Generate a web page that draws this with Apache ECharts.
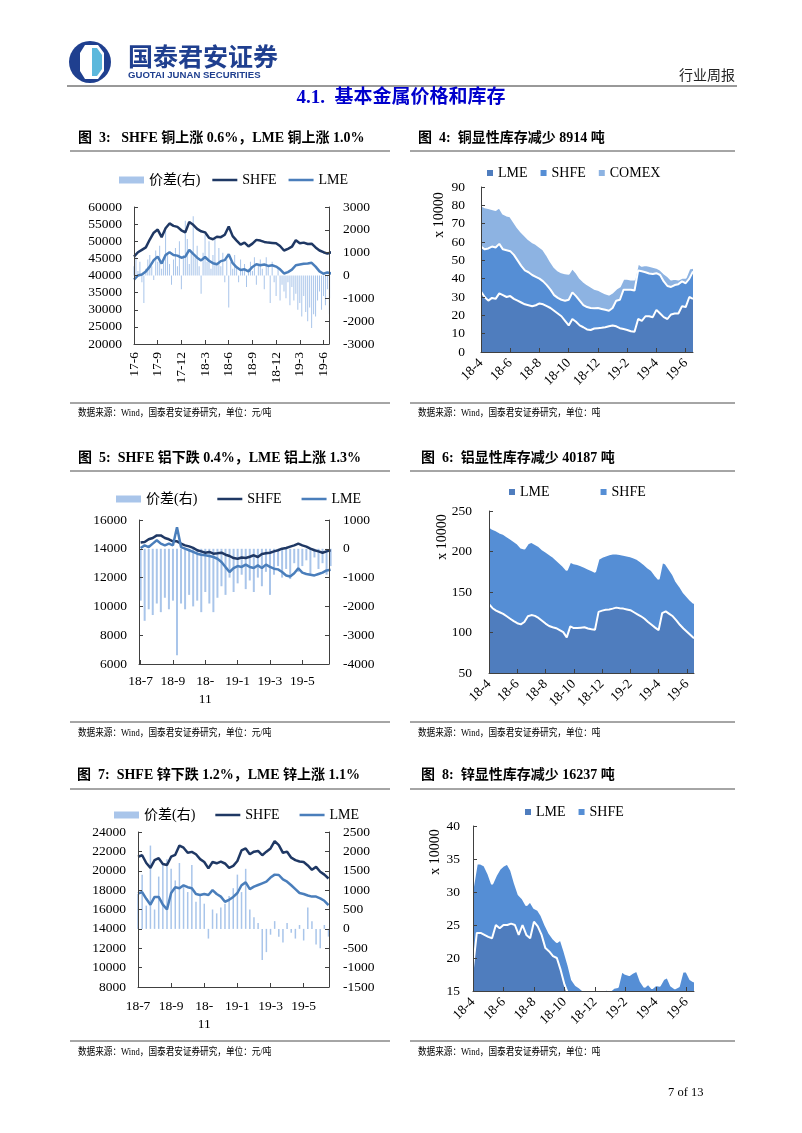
<!DOCTYPE html>
<html><head><meta charset="utf-8">
<script src="https://cdn.jsdelivr.net/npm/echarts@6/dist/echarts.min.js"></script>
<style>html,body{margin:0;padding:0;background:#fff;}#c{width:802px;height:1133px;}</style>
</head><body><div id="c"></div>
<script>
// ---------------- DATA ----------------
// tick labels
const cuPriceTicks = ['17-6','17-9','17-12','18-3','18-6','18-9','18-12','19-3','19-6']; // every 3 months from 2017-06
const alZnPriceTicks = ['18-7','18-9','18-11','19-1','19-3','19-5'];                   // every 2 months from 2018-07
const invTicks = ['18-4','18-6','18-8','18-10','18-12','19-2','19-4','19-6'];            // every 2 months from 2018-04 (8 quarter-month steps)

// Copper prices (yuan/t), half-month steps from 2017-06
const cuShfe = [45500,46800,47500,48200,50500,52500,53400,51200,53800,55200,54500,54200,53200,52600,55600,54800,53600,52900,52600,51000,50600,51300,51200,51900,54300,51500,50200,49000,49600,48500,49300,50400,50200,49800,49600,49500,49400,48600,47300,47800,48400,50300,49400,49600,49200,49300,48200,47300,46800,46400,46800];
const cuLme = [38800,40000,40300,41200,42600,44500,45500,43500,46000,46800,46000,45800,45200,45500,47500,46300,45200,44400,45400,44300,43600,43300,44200,44500,46200,43600,42400,41600,41800,41200,42500,43300,43000,43200,42800,43000,42600,41800,40600,41000,41700,43000,43200,43400,43500,43700,42600,41200,40500,40900,40600];
// Copper spread (right axis), quarter-month steps
const cuSpread = [400,800,200,600,-300,-1200,300,700,900,400,-200,1100,600,1300,300,800,2000,900,500,-400,700,1200,400,1500,-600,900,2400,1600,500,1100,2600,800,1300,400,-800,1000,1800,600,1500,300,900,1700,500,1200,400,1000,-300,700,-1400,600,300,900,400,-300,700,200,500,-500,300,600,200,800,-400,500,700,300,-600,800,400,-1200,600,-300,-900,300,-1100,-400,-700,-1000,-300,-1300,-500,-1100,-800,-1500,-1200,-1800,-900,-1600,-2000,-1400,-2300,-1700,-1800,-1100,-700,-1500,-900,-1300,-600,-1700,-1000];

// Copper visible stocks (x10000 t), quarter-month steps from 2018-04
const cuInvLme = [33,30,28,29.5,29,32,31,30,30.5,29,28,27,26,25.5,25,25.5,26.5,26,25,24,22.5,21,19.5,17,14.5,18,16.5,14.5,13.5,12.3,12,12.8,13,13.2,13.5,14,14.5,14,13,12.5,12,11.3,11,18,17,19.5,19.5,19,23,21,19,18,20.5,21,21,25,24.5,30,29];
const cuInvShfe = [24.5,26,28.5,28,28,27,25,25.5,24.5,24,22,20,18.5,18,17,15.5,13.5,12.5,11.5,10,8.5,8.5,9,11,14,14.5,14,13.5,12.1,12.2,12,11,11,10.3,9.5,8.5,9.5,14,15.5,21.5,22,22.7,22.5,26.5,27,24,23.3,23.5,20,21,19.5,18,15,15.5,16,13.5,13,10,15];
const cuInvComex = [22.5,23,22,20.5,20.5,20,19.5,19,19,18,18,18.5,19,18,18,18,17.5,17.5,16.5,15.5,15.5,15,15,15,14.2,13.3,13,12.5,12.9,12.5,11.8,10.7,10,9.5,9,8.8,8.5,6.5,7.3,6,6,5.5,6,4,3,4,4.2,4,3,3,4.5,5.5,4,3.5,2.5,2,3,5.5,2];

// Aluminium prices, quarter-month steps from 2018-07
const alShfe = [14430,14470,14660,14750,14930,14930,14750,14660,14520,14520,14360,14240,14170,14060,13900,13820,13730,13780,13660,13690,13730,13590,13500,13360,13310,13400,13360,13450,13550,13430,13640,13690,13730,13820,13900,14010,14060,14150,14240,14360,14240,14150,14010,13900,13820,13730,13820,13900];
const alLme = [14060,14240,14120,14360,14590,14360,14240,14360,14240,15500,14120,14010,13900,13780,13660,13590,13550,13500,13430,13310,13080,12730,12390,12660,12800,12740,12900,12740,12670,12850,12670,12900,12740,12620,12570,12390,12150,12080,12300,12650,12350,12250,12200,12150,12250,12350,12500,12550];
const alSpread = [-1800,-2500,-2100,-2300,-1900,-2200,-1700,-2100,-1800,-3700,-1900,-2100,-1600,-2000,-1800,-2200,-1500,-1900,-2200,-1700,-1300,-1600,-1000,-1500,-1200,-900,-1400,-1100,-1500,-1000,-1300,-800,-1600,-900,-600,-1000,-700,-1050,-500,-800,-600,-400,-900,-300,-700,-500,-900,-600];

// Aluminium visible stocks, quarter-month steps from 2018-04
const alInvLme = [135,130,127,125,123,120,117,114,111.5,110,113,120,121.5,120.5,118,114.5,111,108,106.5,105.3,103,100.5,94,107.5,105.5,105.5,106,106.5,105,104,103.5,125.5,127,128,128.5,129.5,130.7,130,129.5,128.5,127.5,125,122.5,120,117,113,109.5,106,103,124,126,123,120,115,109.5,105,101,97,93];
const alInvShfe = [96,98,99,98.5,99,99,99,99,98.5,95,90.5,90,90.5,89,89,88.5,89,89,87.5,84.7,83,81.5,83,80,80,79,77,74.5,74,73,71.5,65.5,66.5,67,68,68,66.8,67,66.5,66.5,66.5,67.5,68,67.5,67,67,67.5,65,63,63,59,55.5,52,48,47.5,45,44,43,43];

// Zinc prices, quarter-month steps from 2018-07
const znShfe = [21450,21600,20800,20300,21100,21300,20700,20600,21450,21650,22600,22380,21850,21950,21700,21200,20900,20250,20900,20770,20940,20750,20300,20500,21000,22100,22300,21700,21970,22040,21600,21970,22300,23050,22650,21850,21970,21350,21100,20950,20900,20550,20100,20400,19900,19600,19200];
const znLme = [17650,17800,17100,16500,17300,17300,16500,16000,17700,18300,18200,18500,18300,18200,17600,17500,17600,17500,18000,17600,17330,16800,17000,17300,17700,18500,18800,18100,18360,18530,18700,18870,19300,19600,19560,19100,18870,18500,18100,17700,17600,17450,17330,17330,17150,16900,16450];
const znSpread = [900,1400,600,2150,500,1350,1700,1800,1550,1250,1700,1100,950,1650,700,850,650,-250,500,400,550,650,850,1050,1400,950,1550,500,300,150,-800,-600,-150,200,-200,-350,150,-100,-250,100,-300,550,200,-400,-500,100,-200];

// Zinc visible stocks, quarter-month steps from 2018-04
const znInvLme = [18.5,23.8,23.8,23.5,23.2,23,25,24.5,25,25,25.2,25,23.5,25,23.5,23,25.5,24.8,23.5,21.5,21,20.3,20,18.2,16,14.5,13.5,13,12.5,12.3,12,11.8,11.5,11.5,11.3,11.2,11,11,11.2,11.5,11.5,11.8,12,12,11.5,11,10.8,10.5,10.3,10.2,10,10,10.2,10,10,9.8,9.8,9.6,9.5];
const znInvShfe = [12.3,10.5,10.5,10.5,9.6,8.2,7.5,9,9,9.3,8.1,6.3,6.1,4,4.5,5.6,2.1,2.5,2.9,3.5,2.8,2.7,2.4,4.6,5,4.5,3.2,2.9,3,2.7,2.8,3,3.7,3.3,3.6,4,4,4.5,4.4,6.5,6.1,5.6,5.8,6.1,5,4.6,5.3,4.9,5.6,5.6,6.8,7.1,5.6,5.4,5.7,8.1,8.2,7.2,6.9];

// ---------------- STYLE ----------------
const SERIF = "'Liberation Serif','Times New Roman',serif";
const MIX = "'Liberation Serif','Noto Sans CJK SC',serif";
const AX = '#404040';
const C_SHFE_LINE = '#1f3864', C_LME_LINE = '#4a7ebb', C_SPREAD = '#a9c5ea';
const C_INV1 = '#4f7dbe', C_INV2 = '#558ed5', C_INV3 = '#8db3e2';
const LINE_ICON = 'path://M0,0h0.01v0.01h-0.01z M0,2.3h25v2.5h-25z M24.99,6.99h0.01v0.01h-0.01z';

const NAMES = {
  cuP_spread:'价差(右)', cuP_shfe:'SHFE', cuP_lme:'LME',
  alP_spread:'价差(右)', alP_shfe:'SHFE', alP_lme:'LME',
  znP_spread:'价差(右)', znP_shfe:'SHFE', znP_lme:'LME',
  cuI_lme:'LME', cuI_shfe:'SHFE', cuI_comex:'COMEX',
  alI_lme:'LME', alI_shfe:'SHFE', znI_lme:'LME', znI_shfe:'SHFE'
};

function xy(arr, step){ return arr.map((v,i)=>[i*step, v]); }
const wrap = t => t === '18-11' ? '18-\n11' : t;
const plain = v => String(v);

function xAxisDef(grid, min, max, labels, spacing, rotate, margin, fmt){
  const pos = labels.map((_,i)=>i*spacing);
  return {
    gridIndex:grid, type:'value', min:min, max:max, z:10,
    axisLine:{show:true, onZero:false, lineStyle:{color:AX, width:1}},
    axisTick:{show:true, inside:true, length:4, customValues:pos, lineStyle:{color:AX}},
    axisLabel:{show:true, customValues:pos, rotate:rotate, margin:margin, fontSize:13.5, fontFamily:SERIF, color:'#000', lineHeight:18,
      formatter: v => { const t = labels[Math.round(v/spacing)] || ''; return fmt ? fmt(t) : t; }},
    splitLine:{show:false}
  };
}
// category axis for stacked stock charts: one category per quarter month, label every 8
function invXAxis(grid, n, margin){
  const cats = Array.from({length:n}, (_,i)=>String(i));
  const every = (i) => i % 8 === 0;
  return {
    gridIndex:grid, type:'category', data:cats, boundaryGap:false, z:10,
    axisLine:{show:true, onZero:false, lineStyle:{color:AX, width:1}},
    axisTick:{show:true, inside:true, length:4, interval:every, lineStyle:{color:AX}},
    axisLabel:{show:true, interval:every, rotate:45, margin:margin, fontSize:13.5, fontFamily:SERIF, color:'#000',
      formatter:(v) => invTicks[Math.round(Number(v)/8)] || ''},
    splitLine:{show:false}
  };
}
function yAxisDef(grid, min, max, interval, position, margin){
  return {
    gridIndex:grid, type:'value', min:min, max:max, interval:interval, position:position, z:10,
    axisLine:{show:true, onZero:false, lineStyle:{color:AX, width:1}},
    axisTick:{show:true, inside:true, length:4, lineStyle:{color:AX}},
    axisLabel:{show:true, margin:margin, fontSize:13.5, fontFamily:SERIF, color:'#000', formatter:plain},
    splitLine:{show:false}
  };
}
function priceSeries(p, xi, yl, yr, shfe, lme, spread, lineStep, barStep, barW){
  return [
    {name:p+'_spread', type:'bar', xAxisIndex:xi, yAxisIndex:yr, data:xy(spread, barStep), barWidth:barW,
      itemStyle:{color:C_SPREAD}, z:1},
    {name:p+'_shfe', type:'line', xAxisIndex:xi, yAxisIndex:yl, data:xy(shfe, lineStep), symbol:'none',
      lineStyle:{color:C_SHFE_LINE, width:2.5}, itemStyle:{color:C_SHFE_LINE}, z:3},
    {name:p+'_lme', type:'line', xAxisIndex:xi, yAxisIndex:yl, data:xy(lme, lineStep), symbol:'none',
      lineStyle:{color:C_LME_LINE, width:2.5}, itemStyle:{color:C_LME_LINE}, z:4}
  ];
}
function invSeries(name, xi, yi, stack, arr, color, z){
  return {name:name, type:'line', stack:stack, xAxisIndex:xi, yAxisIndex:yi, data:arr, symbol:'none',
    lineStyle:{color:'#fff', width:2}, areaStyle:{color:color, opacity:1}, itemStyle:{color:color}, z:z};
}
function priceLegend(prefix, left, top, gap){
  return {left:left, top:top, padding:0, itemGap:gap, itemWidth:25, itemHeight:7, selectedMode:false,
    data:[{name:prefix+'_spread', icon:'rect'}, {name:prefix+'_shfe', icon:LINE_ICON}, {name:prefix+'_lme', icon:LINE_ICON}],
    formatter: n => NAMES[n], textStyle:{fontSize:14, fontFamily:MIX, color:'#000'}};
}
function invLegend(names, left, top, gap){
  return {left:left, top:top, padding:0, itemGap:gap, itemWidth:6, itemHeight:6, icon:'rect', selectedMode:false,
    data:names, formatter: n => NAMES[n], textStyle:{fontSize:14, fontFamily:MIX, color:'#000'}};
}

// ---------------- PAGE TEXT / DECORATION ----------------
function txt(x, y, text, font, fill, align, vAlign, rotation, sx){
  return {type:'text', x:x, y:y, rotation:rotation||0, scaleX:sx||1, silent:true, z:20,
    style:{text:text, font:font, fill:fill||'#000', textAlign:align||'left', textVerticalAlign:vAlign||'middle',
      align:align||'left', verticalAlign:vAlign||'middle'}};
}
function hline(x1, x2, y, color, w){
  return {type:'line', silent:true, z:20, shape:{x1:x1, y1:y, x2:x2, y2:y}, style:{stroke:color, lineWidth:w}};
}
const TFONT = "bold 14px 'Liberation Serif','Noto Sans CJK SC',serif";
const SFONT = "10.5px 'Liberation Serif','Noto Sans CJK SC',serif";
const SSX = 0.82;
const LC = '#4d4d4d';
const graphics = [
  {type:'circle', silent:true, shape:{cx:90, cy:62, r:21}, style:{fill:'#1f3f8f'}},
  {type:'polygon', silent:true, shape:{points:[[85,45],[98,45],[104,53],[104,71],[98,79],[85,79],[80,71],[80,53]]}, style:{fill:'#fff'}},
  {type:'polygon', silent:true, shape:{points:[[92,48],[97,48],[102,55],[102,69],[97,76],[92,76]]}, style:{fill:'#5cb8dc'}},
  txt(128, 56, '国泰君安证券', "bold 25px 'Noto Sans CJK SC',sans-serif", '#1f3f8f'),
  txt(128, 75, 'GUOTAI JUNAN SECURITIES', "bold 9.6px 'Liberation Sans','DejaVu Sans',sans-serif", '#1f3f8f'),
  txt(735, 75, '行业周报', "14px 'Noto Sans CJK SC',sans-serif", '#222', 'right'),
  hline(67, 737, 86, '#333', 1),
  txt(401, 98, '4.1.  基本金属价格和库存', "bold 19px 'Liberation Serif','Noto Sans CJK SC',serif", '#0000cc', 'center'),

  txt(78, 138, '图  3:   SHFE 铜上涨 0.6%，LME 铜上涨 1.0%', TFONT),
  txt(418, 138, '图  4:  铜显性库存减少 8914 吨', TFONT),
  hline(70, 390, 151, LC, 1), hline(410, 735, 151, LC, 1),
  hline(70, 390, 403, LC, 1), hline(410, 735, 403, LC, 1),
  txt(78, 413, '数据来源：Wind，国泰君安证券研究，单位：元/吨', SFONT, '#000', 'left', 'middle', 0, SSX),
  txt(418, 413, '数据来源：Wind，国泰君安证券研究，单位：吨', SFONT, '#000', 'left', 'middle', 0, SSX),

  txt(78, 458, '图  5:  SHFE 铝下跌 0.4%，LME 铝上涨 1.3%', TFONT),
  txt(421, 458, '图  6:  铝显性库存减少 40187 吨', TFONT),
  hline(70, 390, 471, LC, 1), hline(410, 735, 471, LC, 1),
  hline(70, 390, 722, LC, 1), hline(410, 735, 722, LC, 1),
  txt(78, 733, '数据来源：Wind，国泰君安证券研究，单位：元/吨', SFONT, '#000', 'left', 'middle', 0, SSX),
  txt(418, 733, '数据来源：Wind，国泰君安证券研究，单位：吨', SFONT, '#000', 'left', 'middle', 0, SSX),

  txt(77, 775, '图  7:  SHFE 锌下跌 1.2%，LME 锌上涨 1.1%', TFONT),
  txt(421, 775, '图  8:  锌显性库存减少 16237 吨', TFONT),
  hline(70, 390, 789, LC, 1), hline(410, 735, 789, LC, 1),
  hline(70, 390, 1041, LC, 1), hline(410, 735, 1041, LC, 1),
  txt(78, 1052, '数据来源：Wind，国泰君安证券研究，单位：元/吨', SFONT, '#000', 'left', 'middle', 0, SSX),
  txt(418, 1052, '数据来源：Wind，国泰君安证券研究，单位：吨', SFONT, '#000', 'left', 'middle', 0, SSX),

  txt(439, 215, 'x 10000', "14px 'Liberation Serif',serif", '#000', 'center', 'middle', Math.PI/2),
  txt(442, 537, 'x 10000', "14px 'Liberation Serif',serif", '#000', 'center', 'middle', Math.PI/2),
  txt(435, 852, 'x 10000', "14px 'Liberation Serif',serif", '#000', 'center', 'middle', Math.PI/2),

  txt(668, 1093, '7 of 13', "12.5px 'Liberation Serif',serif", '#000')
];

// ---------------- OPTION ----------------
const option = {
  animation:false,
  backgroundColor:'#fff',
  textStyle:{fontFamily:MIX},
  grid:[
    {left:134, top:207, width:195, height:137},
    {left:481, top:187, width:212, height:165},
    {left:139, top:520, width:190, height:144},
    {left:489, top:511, width:205, height:162},
    {left:138, top:832, width:191, height:155},
    {left:473, top:826, width:221, height:165}
  ],
  xAxis:[
    xAxisDef(0, 0, 24.7, cuPriceTicks, 3, 90, 8),
    invXAxis(1, cuInvLme.length, 9),
    xAxisDef(2, -0.1, 11.65, alZnPriceTicks, 2, 0, 8, wrap),
    invXAxis(3, alInvLme.length, 9),
    xAxisDef(4, 0, 11.53, alZnPriceTicks, 2, 0, 10, wrap),
    invXAxis(5, znInvLme.length, 9)
  ],
  yAxis:[
    yAxisDef(0, 20000, 60000, 5000, 'left', 12),
    yAxisDef(0, -3000, 3000, 1000, 'right', 14),
    yAxisDef(1, 0, 90, 10, 'left', 16),
    yAxisDef(2, 6000, 16000, 2000, 'left', 12),
    yAxisDef(2, -4000, 1000, 1000, 'right', 14),
    yAxisDef(3, 50, 250, 50, 'left', 17),
    yAxisDef(4, 8000, 24000, 2000, 'left', 12),
    yAxisDef(4, -1500, 2500, 500, 'right', 14),
    yAxisDef(5, 15, 40, 5, 'left', 13)
  ],
  legend:[
    priceLegend('cuP', 119, 173, 12),
    invLegend(['cuI_lme','cuI_shfe','cuI_comex'], 487, 166, 13),
    priceLegend('alP', 116, 492, 20),
    invLegend(['alI_lme','alI_shfe'], 509, 485, 51),
    priceLegend('znP', 114, 808, 20),
    invLegend(['znI_lme','znI_shfe'], 525, 805, 13)
  ],
  series:[].concat(
    priceSeries('cuP', 0, 0, 1, cuShfe, cuLme, cuSpread, 0.5, 0.25, 1),
    [invSeries('cuI_lme', 1, 2, 'cu', cuInvLme, C_INV1, 6),
     invSeries('cuI_shfe', 1, 2, 'cu', cuInvShfe, C_INV2, 5),
     invSeries('cuI_comex', 1, 2, 'cu', cuInvComex, C_INV3, 4)],
    priceSeries('alP', 2, 3, 4, alShfe, alLme, alSpread, 0.25, 0.25, 2),
    [invSeries('alI_lme', 3, 5, 'al', alInvLme, C_INV1, 6),
     invSeries('alI_shfe', 3, 5, 'al', alInvShfe, C_INV2, 5)],
    priceSeries('znP', 4, 6, 7, znShfe, znLme, znSpread, 0.25, 0.25, 1.5),
    [invSeries('znI_lme', 5, 8, 'zn', znInvLme, C_INV1, 6),
     invSeries('znI_shfe', 5, 8, 'zn', znInvShfe, C_INV2, 5)]
  ),
  graphic: graphics
};
const chart = echarts.init(document.getElementById('c'), null, {renderer:'canvas'});
chart.setOption(option);
</script></body></html>
